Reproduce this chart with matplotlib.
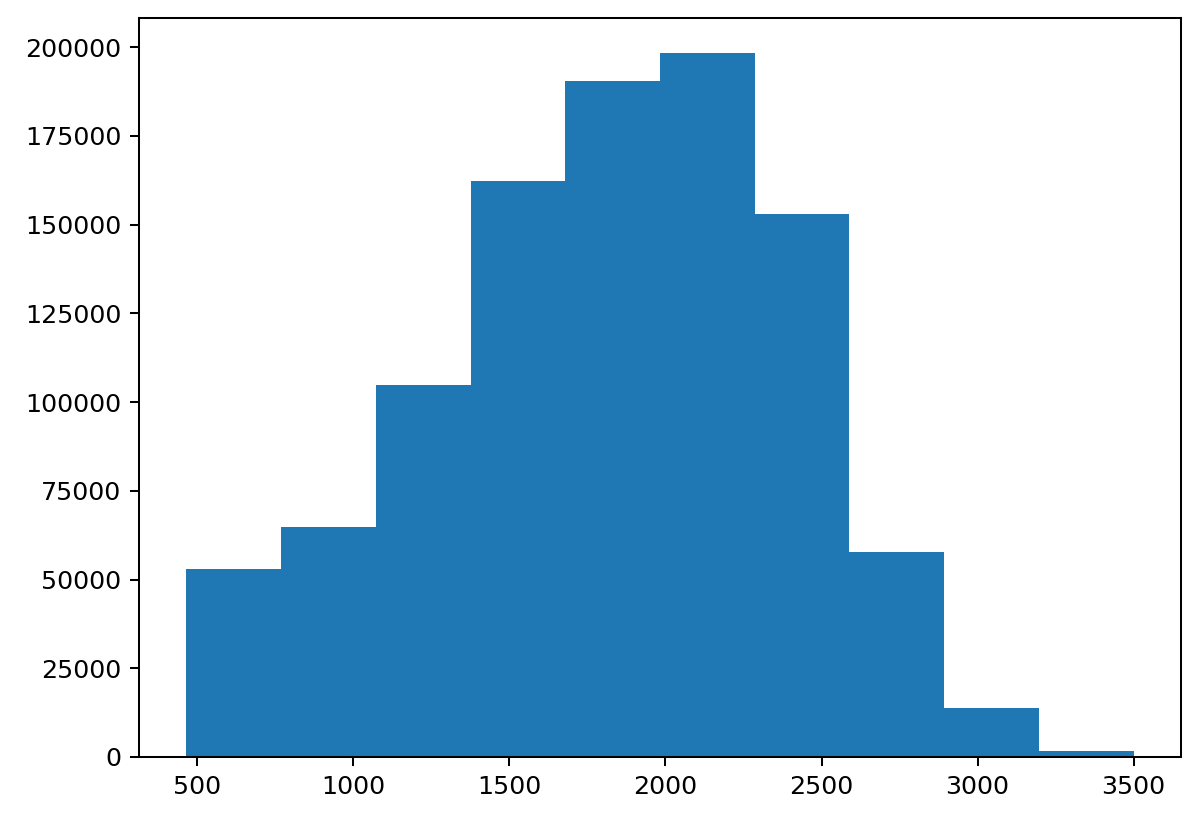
import numpy as np
import matplotlib
matplotlib.use("Agg")
from matplotlib import pyplot as plt

# bin edges and counts
bin_edges = [465, 768.5, 1072, 1375.5, 1679, 1982.5, 2286, 2589.5, 2893, 3196.5, 3500]
counts = [53000, 64900, 104700, 162400, 190500, 198300, 153100, 57800, 13800, 1700]

dpi = 183
fig = plt.figure(figsize=(1200 / dpi, 822 / dpi), dpi=dpi)
ax = fig.add_axes([139 / 1200, 1 - 757 / 822, (1181 - 139) / 1200, (757 - 18) / 822])

ax.hist(bin_edges[:-1], bins=bin_edges, weights=counts, color="#1f77b4")

fig.savefig("out.png", dpi=dpi)
